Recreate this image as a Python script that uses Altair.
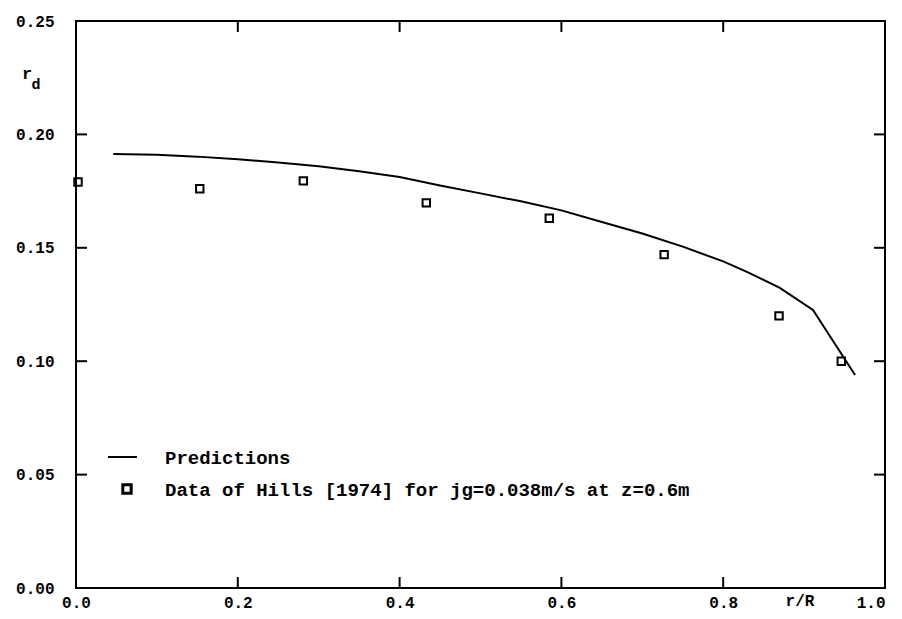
import altair as alt
import pandas as pd

# Predictions (solid line)
pred_x = [0.046, 0.10, 0.15, 0.20, 0.25, 0.30, 0.35, 0.40, 0.45, 0.50, 0.55, 0.60, 0.65, 0.70, 0.75, 0.80, 0.83, 0.87, 0.911, 0.963]
pred_y = [0.1914, 0.1910, 0.1902, 0.1890, 0.1876, 0.1860, 0.1838, 0.1812, 0.1775, 0.1740, 0.1705, 0.1665, 0.1614, 0.1563, 0.1505, 0.1440, 0.1393, 0.1323, 0.1226, 0.0939]

# Data of Hills [1974]
data_x = [0.0025, 0.153, 0.281, 0.433, 0.585, 0.727, 0.869, 0.946]
data_y = [0.179, 0.176, 0.1795, 0.1698, 0.163, 0.147, 0.120, 0.100]

x_ticks = [0.0, 0.2, 0.4, 0.6, 0.8, 1.0]
y_ticks = [0.00, 0.05, 0.10, 0.15, 0.20, 0.25]
x_inner = [0.2, 0.4, 0.6, 0.8]
y_inner = [0.05, 0.10, 0.15, 0.20]

legend_line = "Predictions"
legend_data = "Data of Hills [1974] for jg=0.038m/s at z=0.6m"

W, H = 809, 567
FONT = "Liberation Mono"

pred = pd.DataFrame({"x": pred_x, "y": pred_y})
pts = pd.DataFrame({"x": data_x, "y": data_y})
xt = pd.DataFrame({"x": x_inner})
yt = pd.DataFrame({"y": y_inner})

xs = alt.Scale(domain=[0, 1.0], nice=False, zero=False)
ys = alt.Scale(domain=[0, 0.25], nice=False, zero=False)

xax = alt.Axis(values=x_ticks, format=".1f", ticks=False, domain=False, grid=False,
               labelFont=FONT, labelFontWeight="bold", labelFontSize=16, labelColor="black",
               labelPadding=6, labelFlush=False, title=None,
               labelAlign=alt.expr("datum.value >= 1 ? 'right' : 'center'"))
yax = alt.Axis(values=y_ticks, format=".2f", ticks=False, domain=False, grid=False,
               labelFont=FONT, labelFontWeight="bold", labelFontSize=16, labelColor="black",
               labelPadding=22, labelFlush=False, title=None)

line = alt.Chart(pred).mark_line(color="black", strokeWidth=2).encode(
    x=alt.X("x:Q", scale=xs, axis=xax),
    y=alt.Y("y:Q", scale=ys, axis=yax),
)

points = alt.Chart(pts).mark_point(shape="square", size=55, filled=False,
                                   color="black", strokeWidth=2, opacity=1).encode(
    x=alt.X("x:Q", scale=xs),
    y=alt.Y("y:Q", scale=ys),
)

TL = 11
bot_ticks = alt.Chart(xt).mark_rule(color="black", strokeWidth=2).encode(
    x=alt.X("x:Q", scale=xs), y=alt.value(H), y2=alt.value(H - TL))
top_ticks = alt.Chart(xt).mark_rule(color="black", strokeWidth=2).encode(
    x=alt.X("x:Q", scale=xs), y=alt.value(0), y2=alt.value(TL))
left_ticks = alt.Chart(yt).mark_rule(color="black", strokeWidth=2).encode(
    y=alt.Y("y:Q", scale=ys), x=alt.value(0), x2=alt.value(TL))
right_ticks = alt.Chart(yt).mark_rule(color="black", strokeWidth=2).encode(
    y=alt.Y("y:Q", scale=ys), x=alt.value(W), x2=alt.value(W - TL))

leg_rule = alt.Chart(pd.DataFrame({"t": [legend_line]})).mark_rule(color="black", strokeWidth=2).encode(
    x=alt.value(32), x2=alt.value(61), y=alt.value(436))
leg_sq = alt.Chart(pd.DataFrame({"t": [legend_data]})).mark_point(
    shape="square", size=70, filled=False, color="black", strokeWidth=3, opacity=1).encode(
    x=alt.value(51), y=alt.value(468))
leg_txt1 = alt.Chart(pd.DataFrame({"t": [legend_line]})).mark_text(
    font=FONT, fontWeight="bold", fontSize=19, align="left", baseline="middle", color="black").encode(
    x=alt.value(89), y=alt.value(437), text="t:N")
leg_txt2 = alt.Chart(pd.DataFrame({"t": [legend_data]})).mark_text(
    font=FONT, fontWeight="bold", fontSize=19, align="left", baseline="middle", color="black").encode(
    x=alt.value(89), y=alt.value(469), text="t:N")

xtitle = alt.Chart(pd.DataFrame({"t": ["r/R"]})).mark_text(
    font=FONT, fontWeight="bold", fontSize=16, align="center", baseline="middle", color="black").encode(
    x=alt.value(724), y=alt.value(580), text="t:N")
ytitle = alt.Chart(pd.DataFrame({"t": ["r"]})).mark_text(
    font=FONT, fontWeight="bold", fontSize=17, align="center", baseline="middle", color="black").encode(
    x=alt.value(-49), y=alt.value(53), text="t:N")
ytitle_sub = alt.Chart(pd.DataFrame({"t": ["d"]})).mark_text(
    font=FONT, fontWeight="bold", fontSize=15, align="center", baseline="middle", color="black").encode(
    x=alt.value(-40), y=alt.value(63), text="t:N")

chart = alt.layer(
    line, points, bot_ticks, top_ticks, left_ticks, right_ticks,
    leg_rule, leg_sq, leg_txt1, leg_txt2, xtitle, ytitle, ytitle_sub
).properties(
    width=W, height=H,
    autosize=alt.AutoSizeParams(type="none"),
    padding={"left": 68, "top": 13, "right": 9, "bottom": 23},
    background="white",
).configure_view(stroke="black", strokeWidth=2)

chart.save("out.html", embed_options={"renderer": "svg", "actions": False})
